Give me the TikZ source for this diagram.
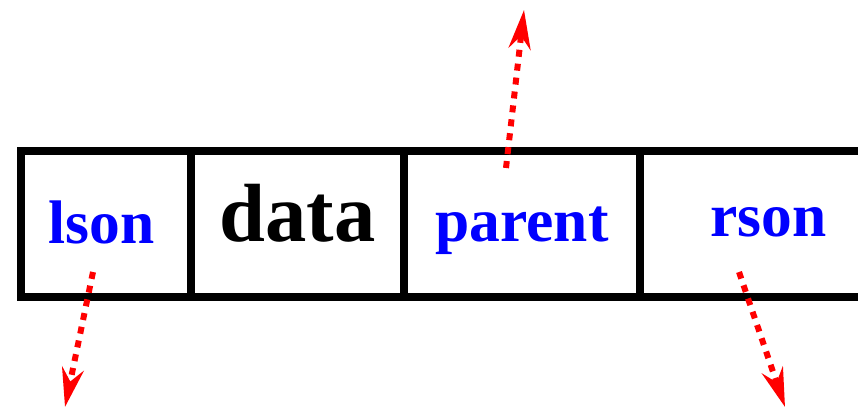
\documentclass[tikz,border=0pt]{standalone}
\usepackage{fontspec}
\setmainfont{Liberation Serif}
\usetikzlibrary{arrows.meta}

\begin{document}
\begin{tikzpicture}[x=0.02cm, y=-0.02cm,
    cell/.style={line width=0.16cm},
    field/.style={font=\fontsize{35}{40}\selectfont\bfseries, text=blue, anchor=base, inner sep=0pt},
    ptr/.style={red, line width=0.12cm, dash pattern=on 0.14cm off 0.14cm,
        -{Stealth[length=0.78cm, width=0.44cm, inset=0.26cm]}}]
    \useasboundingbox (0,0) rectangle (858,408);

    % draw the record cells (open on the right)
        \draw[cell] (880,151) -- (21,151) -- (21,297) -- (880,297);
        \foreach \x in {191,404,640}
            \draw[cell] (\x,151) -- (\x,297);

    % field names
        \node[field] (lson) at (101.5,244) {lson};
        \node[field, text=black, font=\fontsize{47}{52}\selectfont\bfseries] (data) at (297.5,242) {data};
        \node[field] (parent) at (522,242) {parent};
        \node[field] (rson) at (768.5,237) {rson};

    % pointer ends
        \coordinate (lsonfrom) at (93,272);
        \coordinate (lsonto) at (65,407);
        \coordinate (parentfrom) at (506,168);
        \coordinate (parentto) at (524,10);
        \coordinate (rsonfrom) at (739,272);
        \coordinate (rsonto) at (785,407);

    % draw pointers
        \draw[ptr] (lsonfrom) -- (lsonto);
        \draw[ptr] (parentfrom) -- (parentto);
        \draw[ptr] (rsonfrom) -- (rsonto);

\end{tikzpicture}
\end{document}
